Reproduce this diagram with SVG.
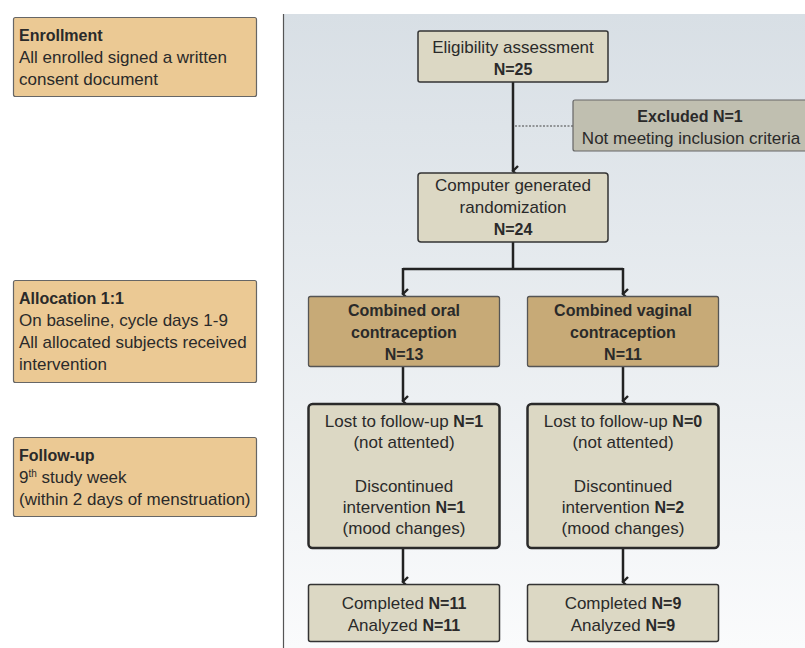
<svg xmlns="http://www.w3.org/2000/svg" width="805" height="648" viewBox="0 0 805 648">
<defs>
<linearGradient id="bg" x1="0" y1="0" x2="0" y2="1">
<stop offset="0" stop-color="#d8dfe5"/>
<stop offset="1" stop-color="#fafbfc"/>
</linearGradient>
<marker id="ah" markerWidth="12" markerHeight="8" refX="6" refY="6" orient="auto-start-reverse" markerUnits="userSpaceOnUse" viewBox="0 0 12 8">
<path d="M1,1 L6,6 L11,1" fill="none" stroke="#222" stroke-width="2.4"/>
</marker>
<style>
text{font-family:"Liberation Sans",Arial,sans-serif;font-size:17px;fill:#2a2a2a}
.c{text-anchor:middle}
.b{font-weight:bold;font-size:16px}
.side{fill:#ebc994;stroke:#666;stroke-width:1.2}
.box{fill:#dcd8c4;stroke:#333;stroke-width:1.5}
.boxk{fill:#dcd8c4;stroke:#2a2a2a;stroke-width:2.5}
.arm{fill:#c7aa77;stroke:#555;stroke-width:1.3}
.exc{fill:#c0bfb0;stroke:#666;stroke-width:1.2}
.ln{fill:none;stroke:#222;stroke-width:2.5}
</style>
</defs>
<rect x="0" y="0" width="805" height="648" fill="#ffffff"/>
<rect x="283" y="14" width="522" height="634" fill="url(#bg)"/>
<line x1="283.5" y1="14" x2="283.5" y2="648" stroke="#555" stroke-width="1.2"/>

<g id="enrollment">
<rect class="side" x="13.5" y="17.5" width="243" height="79" rx="2"/>
<text x="19" y="41" class="b">Enrollment</text>
<text x="19" y="63">All enrolled signed a written</text>
<text x="19" y="85">consent document</text>
</g>
<g id="allocation">
<rect class="side" x="13.5" y="280.5" width="243" height="102" rx="2"/>
<text x="19" y="304" class="b">Allocation 1:1</text>
<text x="19" y="326">On baseline, cycle days 1-9</text>
<text x="19" y="348">All allocated subjects received</text>
<text x="19" y="370">intervention</text>
</g>
<g id="followup">
<rect class="side" x="13.5" y="437.5" width="243" height="79" rx="2"/>
<text x="19" y="461" class="b">Follow-up</text>
<text x="19" y="483">9<tspan font-size="10" dy="-6">th</tspan><tspan dy="6"> study week</tspan></text>
<text x="19" y="505">(within 2 days of menstruation)</text>
</g>

<g id="connectors">
<line class="ln" x1="513" y1="82" x2="513" y2="171" stroke-width="3" marker-end="url(#ah)"/>
<line x1="515" y1="126" x2="573" y2="126" stroke="#444" stroke-width="1" stroke-dasharray="2,1.5"/>
<path class="ln" d="M513,242 V269"/>
<path class="ln" d="M403,269 H623"/>
<line class="ln" x1="403" y1="268" x2="403" y2="294" marker-end="url(#ah)"/>
<line class="ln" x1="623" y1="268" x2="623" y2="294" marker-end="url(#ah)"/>
<line class="ln" x1="403" y1="367" x2="403" y2="401" marker-end="url(#ah)"/>
<line class="ln" x1="623" y1="367" x2="623" y2="401" marker-end="url(#ah)"/>
<line class="ln" x1="403" y1="548" x2="403" y2="582" marker-end="url(#ah)"/>
<line class="ln" x1="623" y1="548" x2="623" y2="582" marker-end="url(#ah)"/>
</g>

<g id="eligibility">
<rect class="box" x="418" y="31" width="190" height="51" rx="2"/>
<text x="513" y="53" class="c">Eligibility assessment</text>
<text x="513" y="75" class="c b">N=25</text>
</g>
<g id="excluded">
<rect class="exc" x="573" y="100" width="240" height="51" rx="2"/>
<text x="690" y="122" class="c b">Excluded N=1</text>
<text x="691" y="144" class="c">Not meeting inclusion criteria</text>
</g>
<g id="randomization">
<rect class="box" x="418" y="173" width="190" height="69" rx="3" stroke-width="2"/>
<text x="513" y="191" class="c">Computer generated</text>
<text x="513" y="213" class="c">randomization</text>
<text x="513" y="235" class="c b">N=24</text>
</g>
<g id="oral">
<rect class="arm" x="308.5" y="296.5" width="191" height="70" rx="2"/>
<text x="404" y="316" class="c b">Combined oral</text>
<text x="404" y="338" class="c b">contraception</text>
<text x="404" y="360" class="c b">N=13</text>
</g>
<g id="vaginal">
<rect class="arm" x="527.5" y="296.5" width="191" height="70" rx="2"/>
<text x="623" y="316" class="c b">Combined vaginal</text>
<text x="623" y="338" class="c b">contraception</text>
<text x="623" y="360" class="c b">N=11</text>
</g>
<g id="oral-losses">
<rect class="boxk" x="308.5" y="404" width="191" height="144" rx="4"/>
<text x="404" y="427" class="c">Lost to follow-up <tspan class="b">N=1</tspan></text>
<text x="404" y="448" class="c">(not attented)</text>
<text x="404" y="492" class="c">Discontinued</text>
<text x="404" y="513" class="c">intervention <tspan class="b">N=1</tspan></text>
<text x="404" y="534" class="c">(mood changes)</text>
</g>
<g id="vaginal-losses">
<rect class="boxk" x="527.5" y="404" width="191" height="144" rx="4"/>
<text x="623" y="427" class="c">Lost to follow-up <tspan class="b">N=0</tspan></text>
<text x="623" y="448" class="c">(not attented)</text>
<text x="623" y="492" class="c">Discontinued</text>
<text x="623" y="513" class="c">intervention <tspan class="b">N=2</tspan></text>
<text x="623" y="534" class="c">(mood changes)</text>
</g>
<g id="oral-completed">
<rect class="box" x="308.5" y="584.5" width="191" height="57" rx="2" stroke-width="1.2"/>
<text x="404" y="609" class="c">Completed <tspan class="b">N=11</tspan></text>
<text x="404" y="631" class="c">Analyzed <tspan class="b">N=11</tspan></text>
</g>
<g id="vaginal-completed">
<rect class="box" x="527.5" y="584.5" width="191" height="57" rx="2" stroke-width="1.2"/>
<text x="623" y="609" class="c">Completed <tspan class="b">N=9</tspan></text>
<text x="623" y="631" class="c">Analyzed <tspan class="b">N=9</tspan></text>
</g>
</svg>
